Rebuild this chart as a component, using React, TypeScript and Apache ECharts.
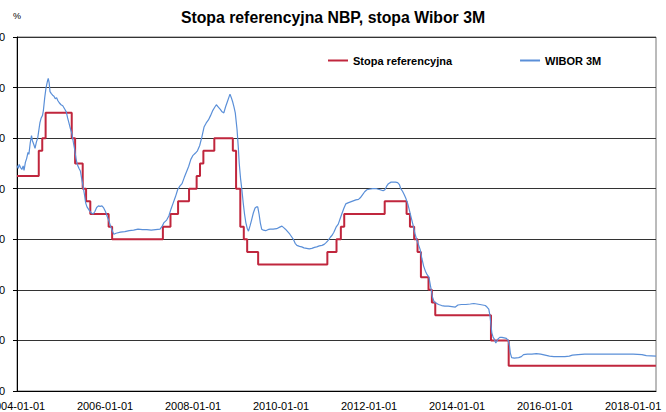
import { useEffect, useRef } from 'react';
import * as echarts from 'echarts';

const titleText = 'Stopa referencyjna NBP, stopa Wibor 3M';
const seriesNames = ['Stopa referencyjna', 'WIBOR 3M'];
const unitLabel = '%';
const xLabelYears = [2004, 2006, 2008, 2010, 2012, 2014, 2016, 2018];

// NBP reference rate: date of change -> new level (last point = end of data)
const refDates = [
  '2004-01-01', '2004-06-30', '2004-07-29', '2004-08-26', '2005-03-31', '2005-04-28',
  '2005-06-30', '2005-07-28', '2005-09-01', '2006-01-31', '2006-03-01', '2007-04-26',
  '2007-06-28', '2007-08-30', '2007-11-29', '2008-01-31', '2008-02-28', '2008-03-27',
  '2008-06-26', '2008-11-27', '2008-12-24', '2009-01-28', '2009-02-26', '2009-03-26',
  '2009-06-25', '2011-01-20', '2011-04-06', '2011-05-12', '2011-06-09', '2012-05-10',
  '2012-11-08', '2012-12-06', '2013-01-10', '2013-02-07', '2013-03-07', '2013-05-09',
  '2013-06-06', '2013-07-04', '2014-10-09', '2015-03-05', '2018-07-09',
];
const refValues = [
  5.25, 5.75, 6.0, 6.5, 6.0, 5.5,
  5.0, 4.75, 4.5, 4.25, 4.0, 4.25,
  4.5, 4.75, 5.0, 5.25, 5.5, 5.75,
  6.0, 5.75, 5.0, 4.25, 4.0, 3.75,
  3.5, 3.75, 4.0, 4.25, 4.5, 4.75,
  4.5, 4.25, 4.0, 3.75, 3.25, 3.0,
  2.75, 2.5, 2.0, 1.5, 1.5,
];

// WIBOR 3M: time in decimal years, value in %
const wiborYears = [
  2004.00, 2004.03, 2004.05, 2004.08, 2004.11, 2004.14, 2004.16, 2004.19, 2004.22, 2004.25,
  2004.27, 2004.30, 2004.33, 2004.35, 2004.38, 2004.41, 2004.44, 2004.47, 2004.49, 2004.52,
  2004.55, 2004.58, 2004.60, 2004.63, 2004.66, 2004.69, 2004.71, 2004.73, 2004.75, 2004.78,
  2004.81, 2004.84, 2004.87, 2004.90, 2004.93, 2004.96, 2005.00, 2005.04, 2005.08, 2005.12,
  2005.15, 2005.18, 2005.21, 2005.25, 2005.28, 2005.31, 2005.34, 2005.37, 2005.41, 2005.44,
  2005.47, 2005.50, 2005.53, 2005.56, 2005.59, 2005.62, 2005.65, 2005.69, 2005.73, 2005.77,
  2005.81, 2005.85, 2005.89, 2005.93, 2005.97, 2006.01, 2006.05, 2006.09, 2006.13, 2006.17,
  2006.20, 2006.25, 2006.35, 2006.45, 2006.55, 2006.65, 2006.75, 2006.85, 2006.95, 2007.05,
  2007.15, 2007.25, 2007.30, 2007.34, 2007.40, 2007.45, 2007.50, 2007.55, 2007.60, 2007.65,
  2007.70, 2007.75, 2007.80, 2007.85, 2007.90, 2007.95, 2008.00, 2008.05, 2008.10, 2008.15,
  2008.20, 2008.25, 2008.30, 2008.35, 2008.40, 2008.45, 2008.50, 2008.53, 2008.57, 2008.62,
  2008.66, 2008.70, 2008.74, 2008.78, 2008.82, 2008.84, 2008.87, 2008.90, 2008.93, 2008.96,
  2009.00, 2009.03, 2009.05, 2009.08, 2009.11, 2009.14, 2009.17, 2009.20, 2009.23, 2009.26,
  2009.30, 2009.33, 2009.37, 2009.41, 2009.44, 2009.47, 2009.50, 2009.53, 2009.56, 2009.60,
  2009.65, 2009.70, 2009.75, 2009.82, 2009.90, 2009.97, 2010.02, 2010.06, 2010.10, 2010.15,
  2010.20, 2010.24, 2010.28, 2010.32, 2010.36, 2010.42, 2010.47, 2010.52, 2010.58, 2010.64,
  2010.70, 2010.76, 2010.81, 2010.87, 2010.93, 2010.98, 2011.03, 2011.07, 2011.12, 2011.16,
  2011.20, 2011.25, 2011.30, 2011.34, 2011.38, 2011.43, 2011.47, 2011.52, 2011.58, 2011.64,
  2011.70, 2011.76, 2011.80, 2011.85, 2011.90, 2011.95, 2012.00, 2012.08, 2012.17, 2012.25,
  2012.32, 2012.36, 2012.40, 2012.44, 2012.50, 2012.55, 2012.60, 2012.65, 2012.69, 2012.72,
  2012.76, 2012.80, 2012.84, 2012.88, 2012.92, 2012.96, 2013.00, 2013.04, 2013.08, 2013.12,
  2013.16, 2013.20, 2013.24, 2013.28, 2013.32, 2013.36, 2013.40, 2013.44, 2013.48, 2013.52,
  2013.58, 2013.65, 2013.72, 2013.80, 2013.88, 2013.96, 2014.02, 2014.10, 2014.20, 2014.30,
  2014.38, 2014.45, 2014.52, 2014.58, 2014.64, 2014.68, 2014.72, 2014.75, 2014.77, 2014.79,
  2014.82, 2014.85, 2014.88, 2014.90, 2014.93, 2014.97, 2015.02, 2015.07, 2015.12, 2015.16,
  2015.19, 2015.21, 2015.24, 2015.30, 2015.40, 2015.46, 2015.51, 2015.60, 2015.70, 2015.80,
  2015.90, 2016.00, 2016.10, 2016.20, 2016.30, 2016.45, 2016.55, 2016.62, 2016.75, 2016.90,
  2017.10, 2017.40, 2017.70, 2018.00, 2018.20, 2018.30, 2018.52,
];
const wiborValues = [
  5.46, 5.40, 5.48, 5.42, 5.38, 5.45, 5.36, 5.52, 5.60, 5.72,
  5.68, 5.90, 6.05, 5.95, 5.88, 5.80, 5.92, 6.00, 6.12, 6.30,
  6.40, 6.45, 6.55, 6.80, 7.00, 7.12, 7.18, 7.10, 6.92, 6.88,
  6.85, 6.83, 6.78, 6.80, 6.74, 6.70, 6.66, 6.64, 6.58, 6.52,
  6.40, 6.30, 6.20, 6.08, 5.92, 5.78, 5.60, 5.48, 5.40, 5.35,
  5.20, 5.05, 4.90, 4.72, 4.64, 4.60, 4.56, 4.52, 4.50, 4.55,
  4.63, 4.66, 4.65, 4.66, 4.62, 4.55, 4.45, 4.36, 4.25, 4.16,
  4.10, 4.12, 4.14, 4.15, 4.17, 4.18, 4.20, 4.19, 4.19, 4.18,
  4.19, 4.20, 4.26, 4.33, 4.38, 4.46, 4.60, 4.72, 4.84, 4.98,
  5.05, 5.10, 5.22, 5.33, 5.44, 5.58, 5.66, 5.70, 5.75, 5.85,
  6.02, 6.22, 6.30, 6.36, 6.45, 6.55, 6.62, 6.66, 6.62, 6.57,
  6.52, 6.50, 6.62, 6.72, 6.82, 6.87, 6.80, 6.72, 6.62, 6.50,
  6.17, 5.80, 5.50, 5.20, 4.98, 4.72, 4.50, 4.33, 4.22, 4.16,
  4.28, 4.38, 4.52, 4.62, 4.64, 4.64, 4.50, 4.32, 4.20, 4.18,
  4.17, 4.19, 4.20, 4.20, 4.21, 4.24, 4.26, 4.23, 4.20, 4.15,
  4.10, 4.05, 4.00, 3.92, 3.88, 3.86, 3.85, 3.83, 3.82, 3.81,
  3.82, 3.84, 3.85, 3.87, 3.88, 3.90, 3.94, 3.98, 4.04, 4.08,
  4.14, 4.24, 4.30, 4.40, 4.50, 4.62, 4.70, 4.72, 4.74, 4.76,
  4.78, 4.79, 4.82, 4.88, 4.94, 4.98, 4.99, 5.00, 5.00, 4.98,
  4.96, 4.98, 5.05, 5.10, 5.13, 5.13, 5.13, 5.12, 5.08, 5.00,
  4.95, 4.88, 4.80, 4.70, 4.56, 4.42, 4.28, 4.12, 4.00, 3.90,
  3.80, 3.62, 3.47, 3.37, 3.30, 3.25, 3.06, 2.86, 2.76, 2.74,
  2.71, 2.69, 2.68, 2.68, 2.67, 2.66, 2.70, 2.71, 2.71, 2.72,
  2.73, 2.72, 2.71, 2.70, 2.69, 2.66, 2.62, 2.48, 2.30, 2.15,
  2.06, 2.02, 1.95, 1.98, 2.03, 2.06, 2.06, 2.05, 2.04, 2.00,
  1.90, 1.75, 1.66, 1.65, 1.66, 1.68, 1.72, 1.73, 1.73, 1.74,
  1.73, 1.71, 1.69, 1.68, 1.68, 1.68, 1.69, 1.71, 1.72, 1.73,
  1.73, 1.73, 1.73, 1.73, 1.72, 1.70, 1.69,
];

function toYear(d: string): number {
  const [y, m, dd] = d.split('-').map(Number);
  const start = Date.UTC(y, 0, 1);
  const end = Date.UTC(y + 1, 0, 1);
  return y + (Date.UTC(y, m - 1, dd) - start) / (end - start);
}

const RED = '#C0263D';
const BLUE = '#5A8FD8';

export default function App() {
  const ref = useRef<HTMLDivElement>(null);
  useEffect(() => {
    if (!ref.current) return;
    const chart = echarts.init(ref.current, undefined, { renderer: 'svg' });
    const baseFont = "'Liberation Sans', Arial, sans-serif";
    chart.setOption({
      animation: false,
      backgroundColor: '#ffffff',
      textStyle: { fontFamily: baseFont },
      title: {
        text: titleText,
        left: 328,
        textAlign: 'center',
        top: 4,
        textStyle: {
          fontFamily: baseFont,
          fontWeight: 'bold',
          fontSize: 15.8,
          color: '#000',
        },
      },
      legend: {
        left: 328,
        top: 55,
        padding: 0,
        itemWidth: 20,
        itemHeight: 2,
        itemGap: 68,
        icon: 'rect',
        data: [
          { name: seriesNames[0], itemStyle: { color: RED } },
          { name: seriesNames[1], itemStyle: { color: BLUE } },
        ],
        textStyle: { fontFamily: baseFont, fontWeight: 'bold', fontSize: 11, color: '#000' },
      },
      graphic: [
        {
          type: 'text',
          x: 17,
          y: 16,
          style: { text: unitLabel, fontSize: 9, fill: '#000', textAlign: 'center', textVerticalAlign: 'middle', fontFamily: baseFont },
        },
      ],
      grid: {
        left: 17,
        right: 10,
        top: 37,
        bottom: 21,
        outerBoundsMode: 'none',
        containLabel: false,
        show: true,
        borderColor: '#777',
        borderWidth: 1,
        backgroundColor: 'transparent',
      },
      xAxis: {
        type: 'value',
        min: 2004,
        max: 2018.52,
        interval: 2,
        axisLine: { show: true, lineStyle: { color: '#000', width: 1 } },
        axisTick: { show: false },
        splitLine: { show: false },
        axisLabel: {
          fontSize: 11,
          color: '#000',
          margin: 9,
          hideOverlap: false,
          formatter: (v: number) => (xLabelYears.includes(v) ? `${v}-01-01` : ''),
        },
      },
      yAxis: {
        type: 'value',
        min: 1,
        max: 8,
        interval: 1,
        axisLine: { show: true, lineStyle: { color: '#000', width: 1 } },
        axisTick: { show: true, length: 4, lineStyle: { color: '#000' } },
        splitLine: { show: true, lineStyle: { color: '#333', width: 1 } },
        axisLabel: {
          fontSize: 11,
          color: '#000',
          margin: 12,
          formatter: (v: number) => v.toFixed(1).replace('.', ','),
        },
      },
      series: [
        {
          name: seriesNames[0],
          type: 'line',
          step: 'end',
          symbol: 'none',
          data: refDates.map((d, i) => [toYear(d), refValues[i]]),
          lineStyle: { color: RED, width: 2 },
          itemStyle: { color: RED },
        },
        {
          name: seriesNames[1],
          type: 'line',
          symbol: 'none',
          data: wiborYears.map((t, i) => [t, wiborValues[i]]),
          lineStyle: { color: BLUE, width: 1.2 },
          itemStyle: { color: BLUE },
        },
      ],
    });
    return () => chart.dispose();
  }, []);
  return (
    <div
      ref={ref}
      style={{ position: 'fixed', left: 0, top: 0, width: 666, height: 412, background: '#fff' }}
    />
  );
}
